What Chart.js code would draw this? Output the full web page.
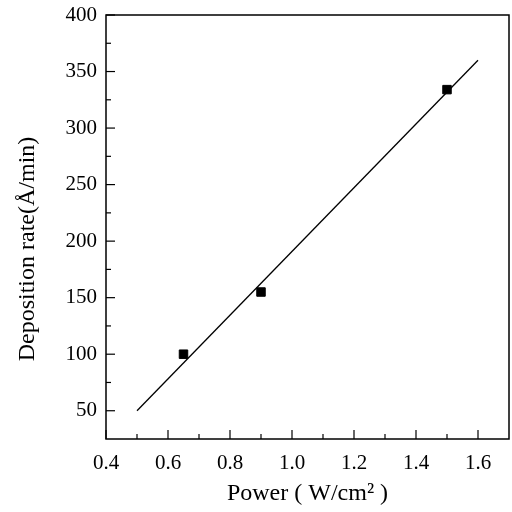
<!DOCTYPE html>
<html lang="en">
<head>
    <meta charset="UTF-8">
    <title>Deposition rate vs Power</title>
    <script src="https://cdn.jsdelivr.net/npm/chart.js"></script>
    <style>
        body {
            margin: 0;
            background-color: white;
            overflow: hidden;
        }
    </style>
</head>
<body>
    <canvas id="rateChart" width="512" height="512"></canvas>

    <script>
        // measured points (power W/cm2, rate A/min)
        const powerValues = [0.65, 0.9, 1.5];
        const rateValues = [100, 155, 334];

        // fitted line end points
        const fitPower = [0.5, 1.6];
        const fitRate = [50, 360];

        const xTicks = [0.4, 0.6, 0.8, 1.0, 1.2, 1.4, 1.6];
        const yTicks = [50, 100, 150, 200, 250, 300, 350, 400];

        const yTitle = 'Deposition rate(\u00c5/min)';
        const fontFamily = "'Liberation Serif', 'DejaVu Serif', serif";

        Chart.defaults.font.family = fontFamily;
        Chart.defaults.color = '#000';

        // draws the frame, the inward pointing ticks and the y title
        const framePlugin = {
            id: 'frame',
            afterDraw(chart) {
                const ctx = chart.ctx;
                const area = chart.chartArea;
                const xs = chart.scales.x;
                const ys = chart.scales.y;
                ctx.save();
                ctx.strokeStyle = '#000';
                ctx.lineWidth = 1.5;
                ctx.strokeRect(area.left, area.top, area.right - area.left, area.bottom - area.top);

                ctx.lineWidth = 1.2;
                for (let i = 0; i < xTicks.length; i++) {
                    const px = xs.getPixelForValue(xTicks[i]);
                    ctx.beginPath();
                    ctx.moveTo(px, area.bottom);
                    ctx.lineTo(px, area.bottom - 9);
                    ctx.stroke();
                    const mid = xTicks[i] + 0.1;
                    if (mid < xs.max) {
                        const pm = xs.getPixelForValue(mid);
                        ctx.beginPath();
                        ctx.moveTo(pm, area.bottom);
                        ctx.lineTo(pm, area.bottom - 5);
                        ctx.stroke();
                    }
                }
                for (let i = 0; i < yTicks.length; i++) {
                    const py = ys.getPixelForValue(yTicks[i]);
                    ctx.beginPath();
                    ctx.moveTo(area.left, py);
                    ctx.lineTo(area.left + 9, py);
                    ctx.stroke();
                    const mid = yTicks[i] - 25;
                    if (mid > ys.min) {
                        const pm = ys.getPixelForValue(mid);
                        ctx.beginPath();
                        ctx.moveTo(area.left, pm);
                        ctx.lineTo(area.left + 5, pm);
                        ctx.stroke();
                    }
                }

                // y title sits a bit below the axis middle in the original
                ctx.translate(28, 249);
                ctx.rotate(-Math.PI / 2);
                ctx.font = '24px ' + fontFamily;
                ctx.fillStyle = '#000';
                ctx.textAlign = 'center';
                ctx.textBaseline = 'middle';
                ctx.fillText(yTitle, 0, 0);
                ctx.restore();
            }
        };

        const ctx = document.getElementById('rateChart').getContext('2d');
        new Chart(ctx, {
            type: 'scatter',
            data: {
                datasets: [
                    {
                        label: 'fit',
                        type: 'line',
                        data: fitPower.map((p, i) => ({ x: p, y: fitRate[i] })),
                        borderColor: '#000',
                        borderWidth: 1.3,
                        pointRadius: 0,
                        fill: false
                    },
                    {
                        label: 'data',
                        data: powerValues.map((p, i) => ({ x: p, y: rateValues[i] })),
                        pointStyle: 'rect',
                        pointRadius: 6,
                        backgroundColor: '#000',
                        borderColor: '#000'
                    }
                ]
            },
            options: {
                responsive: false,
                animation: false,
                layout: {
                    autoPadding: false,
                    padding: { top: 15, right: 3, left: 0, bottom: 0 }
                },
                plugins: {
                    legend: { display: false },
                    tooltip: { enabled: false }
                },
                scales: {
                    x: {
                        type: 'linear',
                        min: 0.4,
                        max: 1.7,
                        afterBuildTicks: (scale) => {
                            scale.ticks = xTicks.map(v => ({ value: v }));
                        },
                        afterFit: (scale) => {
                            scale.height = 73;
                            scale.paddingLeft = 0;
                            scale.paddingRight = 0;
                        },
                        ticks: {
                            font: { size: 21 },
                            padding: 12,
                            maxRotation: 0,
                            callback: (v) => v.toFixed(1)
                        },
                        grid: { display: false, drawTicks: false },
                        border: { display: false },
                        title: {
                            display: true,
                            text: 'Power ( W/cm\u00b2 )',
                            font: { size: 24 },
                            padding: { top: 0, bottom: 4 }
                        }
                    },
                    y: {
                        type: 'linear',
                        min: 25,
                        max: 400,
                        afterBuildTicks: (scale) => {
                            scale.ticks = yTicks.map(v => ({ value: v }));
                        },
                        afterFit: (scale) => {
                            scale.width = 106;
                            scale.paddingTop = 0;
                            scale.paddingBottom = 0;
                        },
                        ticks: {
                            font: { size: 21 },
                            padding: 9
                        },
                        grid: { display: false, drawTicks: false },
                        border: { display: false }
                    }
                }
            },
            plugins: [framePlugin]
        });
    </script>
</body>
</html>
